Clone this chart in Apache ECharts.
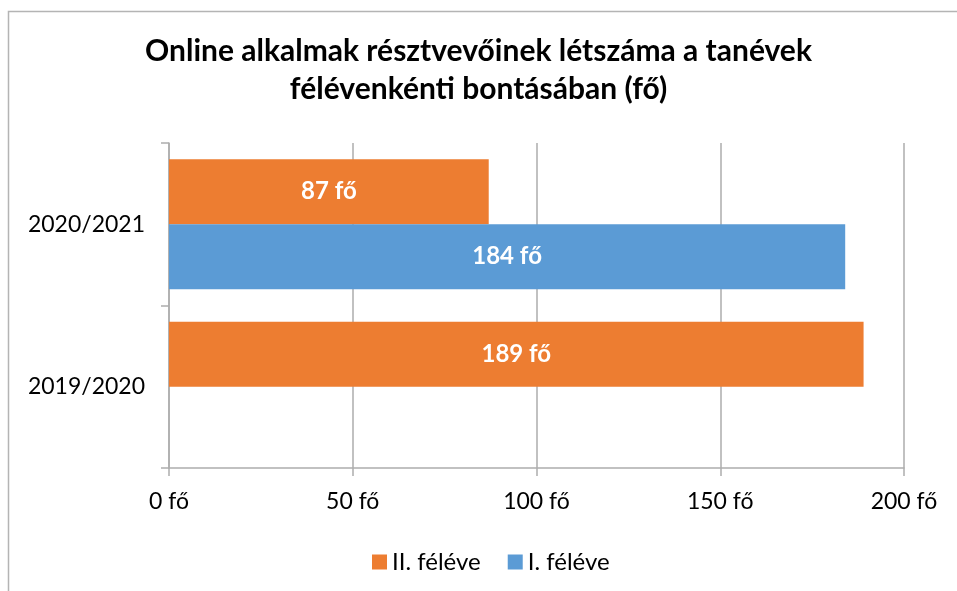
<!DOCTYPE html>
<html><head><meta charset="utf-8">
<script src="https://cdn.jsdelivr.net/npm/echarts@6/dist/echarts.min.js"></script>
<style>html,body{margin:0;padding:0;background:#fff}#c{width:957px;height:591px}</style>
</head><body><div id="c"></div>
<script>
const categories = ['2019/2020', '2020/2021'];
const seriesNames = ['II. féléve', 'I. féléve'];
const secondSemester = [189, 87];
const firstSemester = [null, 184];
const xTicks = [0, 50, 100, 150, 200];
const titleText = 'Online alkalmak résztvevőinek létszáma a tanévek\nfélévenkénti bontásában (fő)';

const FONT = 'Lato';
const chart = echarts.init(document.getElementById('c'), null, {renderer: 'canvas'});
chart.setOption({
  animation: false,
  backgroundColor: '#fff',
  textStyle: {fontFamily: FONT},
  graphic: [{type: 'rect', shape: {x: 8.5, y: 11.5, width: 1000, height: 1000}, style: {fill: 'none', stroke: '#B4B4B4', lineWidth: 1.5}, silent: true}],
  title: {text: titleText, left: 'center', top: 27, textStyle: {fontFamily: FONT, fontSize: 30, fontWeight: 'bold', color: '#000', lineHeight: 38}},
  legend: {data: seriesNames, top: 545, left: 367, icon: 'rect', itemWidth: 15, itemHeight: 15, itemGap: 27,
    textStyle: {fontFamily: FONT, fontSize: 24, color: '#000'}},
  grid: {left: 169, right: 53, top: 143, bottom: 123, containLabel: false},
  xAxis: {type: 'value', min: xTicks[0], max: xTicks[xTicks.length - 1], interval: 50,
    axisLine: {show: true, lineStyle: {color: '#ADADAD', width: 1.5}},
    axisTick: {show: true, length: 8, lineStyle: {color: '#ADADAD', width: 1.5}},
    splitLine: {show: true, lineStyle: {color: '#ADADAD', width: 1.5}},
    axisLabel: {formatter: v => v + ' fő', fontFamily: FONT, fontSize: 23, color: '#000', margin: 22}},
  yAxis: {type: 'category', data: categories,
    axisLine: {show: true, lineStyle: {color: '#ADADAD', width: 1.5}},
    axisTick: {show: true, length: 8, lineStyle: {color: '#ADADAD', width: 1.5}},
    axisLabel: {fontFamily: FONT, fontSize: 23, color: '#000', margin: 24}},
  series: [
    {name: seriesNames[0], type: 'bar', data: secondSemester, itemStyle: {color: '#ED7D31'}, barGap: '0%', barCategoryGap: '20%',
      label: {show: true, position: 'inside', formatter: p => p.value + ' fő', color: '#fff', fontWeight: 'bold', fontSize: 24, fontFamily: FONT}},
    {name: seriesNames[1], type: 'bar', data: firstSemester, itemStyle: {color: '#5B9BD5'}, barGap: '0%', barCategoryGap: '20%',
      label: {show: true, position: 'inside', formatter: p => p.value + ' fő', color: '#fff', fontWeight: 'bold', fontSize: 24, fontFamily: FONT}}
  ]
});
</script></body></html>
